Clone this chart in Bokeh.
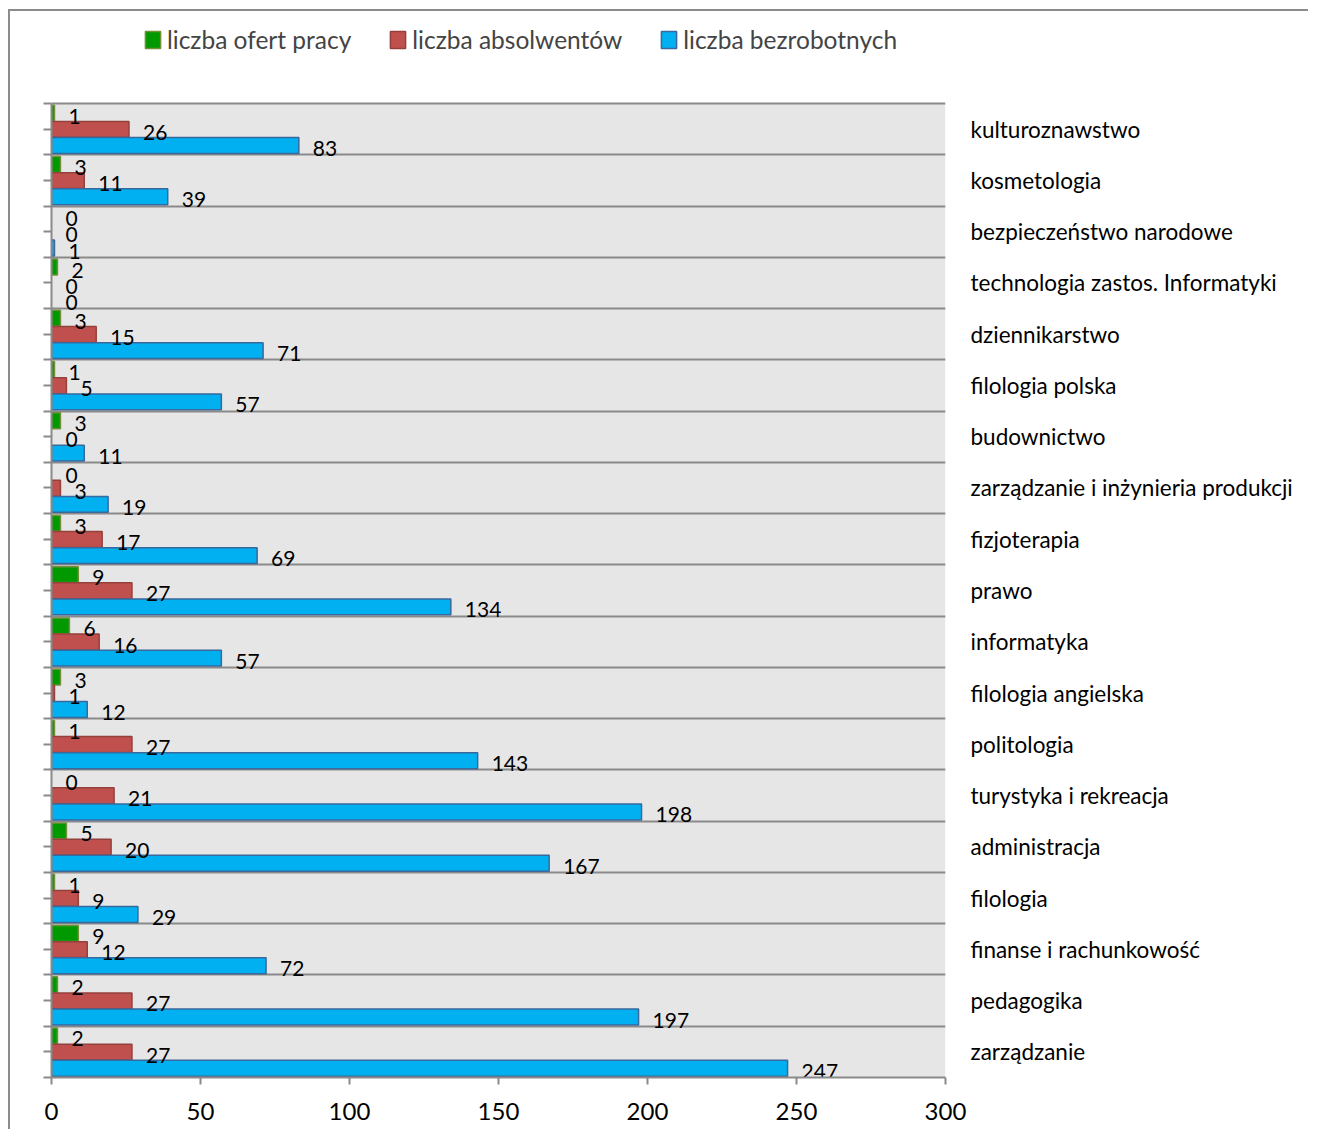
from bokeh.plotting import figure
from bokeh.models import (ColumnDataSource, Range1d, LinearAxis, FixedTicker, Grid,
                          Legend, LegendItem, BoxAnnotation)
from bokeh.core.properties import value
from bokeh.embed import file_html
from bokeh.resources import INLINE

categories = ["kulturoznawstwo", "kosmetologia", "bezpieczeństwo narodowe",
              "technologia zastos. Informatyki", "dziennikarstwo", "filologia polska",
              "budownictwo", "zarządzanie i inżynieria produkcji", "fizjoterapia", "prawo",
              "informatyka", "filologia angielska", "politologia", "turystyka i rekreacja",
              "administracja", "filologia", "finanse i rachunkowość", "pedagogika", "zarządzanie"]
oferty = [1, 3, 0, 2, 3, 1, 3, 0, 3, 9, 6, 3, 1, 0, 5, 1, 9, 2, 2]
absolwenci = [26, 11, 0, 0, 15, 5, 0, 3, 17, 27, 16, 1, 27, 21, 20, 9, 12, 27, 27]
bezrobotni = [83, 39, 1, 0, 71, 57, 11, 19, 69, 134, 57, 12, 143, 198, 167, 29, 72, 197, 247]
series_names = ["liczba ofert pracy", "liczba absolwentów", "liczba bezrobotnych"]
x_ticks = [0, 50, 100, 150, 200, 250, 300]

FONT = "Lato"
GRAY = "#8a8a8a"
N = len(categories)

# pixel layout of the canvas
PLOT_H = 974.0          # height of the grey plot area
TOP_SPACE = 92.0        # space above it (legend area), part of the frame
unit = PLOT_H / N
top_pad = TOP_SPACE / unit

p = figure(width=1300, height=1120, x_range=Range1d(0, 300),
           y_range=Range1d(N, -top_pad),
           x_axis_location=None, y_axis_location=None, toolbar_location=None,
           output_backend="svg", min_border_left=41, min_border_right=365,
           min_border_top=0, min_border_bottom=54)
p.styles = {"border-left": "2px solid #8c8c8c", "border-top": "2px solid #8c8c8c",
            "margin-left": "8px", "margin-top": "9px"}
p.background_fill_color = "white"
p.border_fill_color = "white"
p.outline_line_color = None
for g in p.grid:
    g.visible = False

bg = BoxAnnotation(left=0, right=300, top=0, bottom=N, fill_color="#e6e6e6",
                   fill_alpha=1.0, line_color=None, level="underlay")
p.add_layout(bg)

grid = Grid(dimension=1, ticker=FixedTicker(ticks=list(range(N + 1))),
            grid_line_color=GRAY, grid_line_width=2)
p.add_layout(grid)

fills = ["#009900", "#c0504d", "#00b0f0"]
lines = ["#71903a", "#94403d", "#38689c"]
offs = [0.19, 0.505, 0.82]
renderers = []
sources = []
for k, vals in enumerate([oferty, absolwenci, bezrobotni]):
    src = ColumnDataSource(dict(
        y=[i + offs[k] for i in range(N)],
        right=vals,
        label=[str(v) for v in vals],
        la=[0.0 if v == 0 else 1.0 for v in vals],
    ))
    sources.append(src)
    r = p.hbar(y="y", left=0, right="right", height=0.31, source=src,
               fill_color=fills[k], line_color=lines[k], line_width=1.5, line_alpha="la")
    renderers.append(r)

for src in sources:
    p.text(x="right", y="y", text="label", source=src, x_offset=14, y_offset=3,
           text_align="left", text_baseline="middle", text_font=value(FONT),
           text_font_size="21px", text_color="black")

# left axis: ticks only
lticks = [i * 0.5 for i in range(2 * N + 1)]
ly = LinearAxis(ticker=FixedTicker(ticks=lticks), bounds=(0, N),
                major_label_overrides={t: "" for t in lticks},
                major_tick_out=8, major_tick_in=0, major_label_standoff=0,
                axis_line_color=GRAY, axis_line_width=2,
                major_tick_line_color=GRAY, major_tick_line_width=2,
                minor_tick_line_color=None)
p.add_layout(ly, "left")

# right axis: category names
cticks = [i + 0.5 for i in range(N)]
ry = LinearAxis(ticker=FixedTicker(ticks=cticks),
                major_label_overrides={t: c for t, c in zip(cticks, categories)},
                axis_line_color=None, major_tick_line_color=None, minor_tick_line_color=None,
                major_tick_out=0, major_tick_in=0, minor_tick_out=0, minor_tick_in=0,
                major_label_standoff=25, major_label_text_font=FONT,
                major_label_text_font_size="22.5px", major_label_text_color="black")
p.add_layout(ry, "right")

# bottom axis
bx = LinearAxis(ticker=FixedTicker(ticks=x_ticks),
                major_tick_out=7, major_tick_in=0, major_label_standoff=18,
                axis_line_color=GRAY, axis_line_width=2,
                major_tick_line_color=GRAY, major_tick_line_width=2,
                minor_tick_line_color=None, major_label_text_font=FONT,
                major_label_text_font_size="24px", major_label_text_color="black")
p.add_layout(bx, "below")

legend = Legend(items=[LegendItem(label=n, renderers=[r]) for n, r in zip(series_names, renderers)],
                orientation="horizontal", location=(92, 1023), padding=0, margin=0,
                spacing=37, label_standoff=5, glyph_width=19, glyph_height=21,
                label_text_font=FONT, label_text_font_size="24.5px",
                border_line_color=None, background_fill_alpha=0)
p.add_layout(legend, "center")

with open("out.html", "w", encoding="utf-8") as f:
    f.write(file_html(p, INLINE))
